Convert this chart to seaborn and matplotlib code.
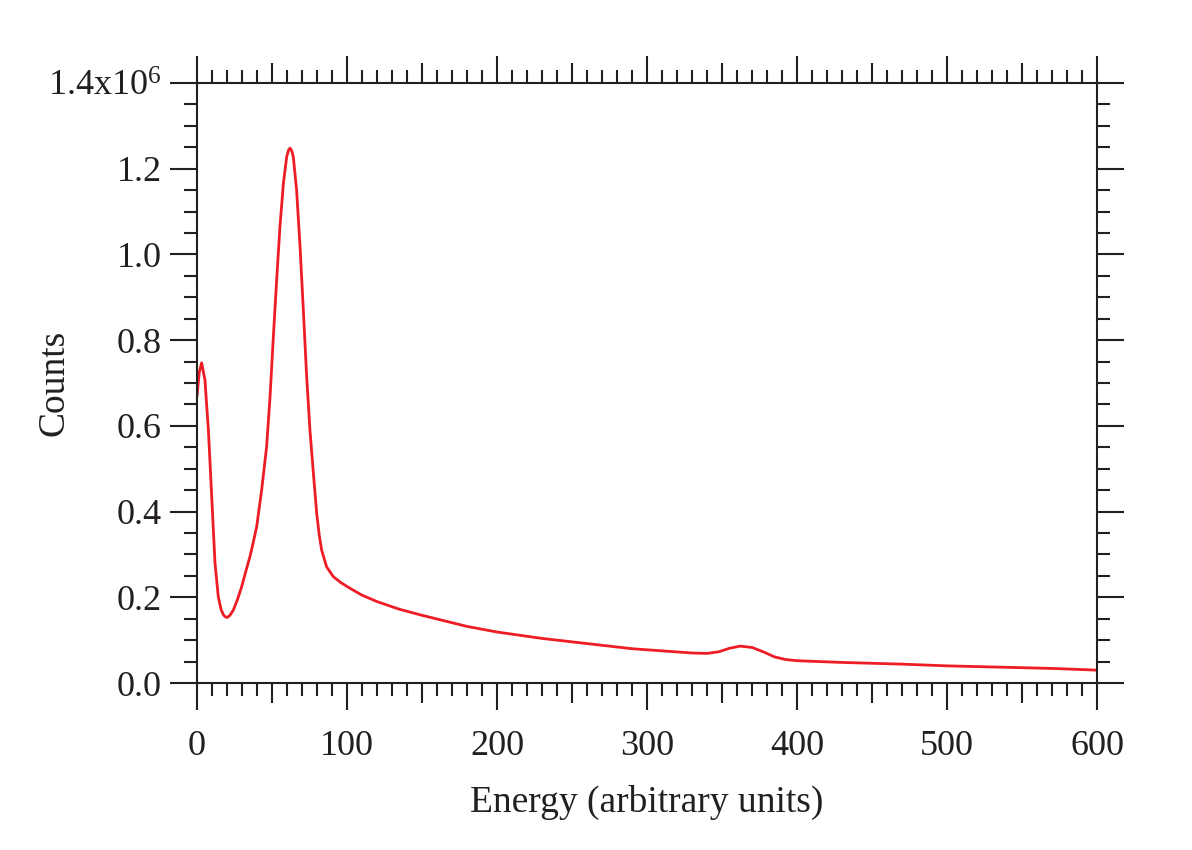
import numpy as np
import pandas as pd
import seaborn as sns
import matplotlib
matplotlib.use("Agg")
import matplotlib.pyplot as plt
from matplotlib.ticker import MultipleLocator, FuncFormatter

# спектр, значения (counts в единицах 1e6)
energy = [0, 1.5, 3.1, 5.3, 7.6, 9.8, 12, 14.2, 16, 17.6, 19, 20.2, 22, 24.2, 27,
          29.8, 32.5, 35.3, 37.5, 39.8, 43.1, 46.4, 48.7, 50.9, 53.1, 55.3, 57.6,
          59.8, 61, 62, 63, 64.2, 66.4, 68.7, 70.9, 73.1, 75.3, 77.6, 79.8, 81.5,
          83.1, 86.4, 90.9, 96, 102, 110, 120, 135, 150, 180, 200, 230, 250, 270,
          290, 310, 330, 340, 348, 355, 362, 370, 378, 385, 392, 400, 430, 470,
          500, 535, 570, 600]
counts_m = [0.668, 0.725, 0.747, 0.707, 0.590, 0.435, 0.28, 0.201, 0.172, 0.159,
            0.154, 0.153, 0.158, 0.170, 0.195, 0.225, 0.26, 0.295, 0.328, 0.365,
            0.450, 0.551, 0.668, 0.808, 0.940, 1.065, 1.166, 1.228, 1.243, 1.248,
            1.243, 1.228, 1.150, 1.018, 0.870, 0.715, 0.590, 0.489, 0.396, 0.345,
            0.310, 0.271, 0.248, 0.234, 0.221, 0.205, 0.19, 0.172, 0.158, 0.132,
            0.119, 0.104, 0.096, 0.088, 0.080, 0.075, 0.070, 0.069, 0.073, 0.081,
            0.086, 0.083, 0.072, 0.061, 0.055, 0.052, 0.048, 0.044, 0.040, 0.037,
            0.034, 0.030]

df = pd.DataFrame({"Energy": energy, "Counts": np.array(counts_m) * 1e6})

sns.set_style("ticks")
plt.rcParams["font.family"] = ["Liberation Serif", "DejaVu Serif"]
plt.rcParams["mathtext.fontset"] = "custom"
plt.rcParams["mathtext.rm"] = "Liberation Serif"
plt.rcParams["mathtext.it"] = "Liberation Serif"
plt.rcParams["mathtext.bf"] = "Liberation Serif:bold"

fig = plt.figure(figsize=(11.92, 8.5), dpi=100)
ax = fig.add_axes([197 / 1192, 1 - 683 / 850, 900 / 1192, 600 / 850])

sns.lineplot(data=df, x="Energy", y="Counts", color="#ee1c25", linewidth=2.0, ax=ax)

ax.set_xlim(0, 600)
ax.set_ylim(0, 1.4e6)

ax.xaxis.set_major_locator(MultipleLocator(100))
ax.xaxis.set_minor_locator(MultipleLocator(10))
ax.yaxis.set_major_locator(MultipleLocator(0.2e6))
ax.yaxis.set_minor_locator(MultipleLocator(0.05e6))


def ylab(v, pos):
    if abs(v - 1.4e6) < 1:
        return "1.4x10$^{6}$"
    return "%.1f" % (v / 1e6)


ax.yaxis.set_major_formatter(FuncFormatter(ylab))

for s in ax.spines.values():
    s.set_linewidth(1.5)
    s.set_color("#231f20")

ax.tick_params(which="both", direction="out", top=True, right=True,
               width=1.5, color="#231f20", labelsize=26, labelcolor="#231f20")
ax.tick_params(which="major", length=19.5)
ax.tick_params(which="minor", length=9.5)
ax.tick_params(axis="x", which="major", pad=14)
ax.tick_params(axis="y", which="major", pad=6)

# средние засечки на 50, 150, ... по оси x
fig.canvas.draw()
locs = ax.xaxis.get_minorticklocs()
for t, loc in zip(ax.xaxis.get_minor_ticks(len(locs)), locs):
    if abs(loc % 100 - 50) < 1e-6:
        t.tick1line.set_markersize(14.5)
        t.tick2line.set_markersize(14.5)

ax.set_xlabel("Energy (arbitrary units)", fontsize=27, color="#231f20")
ax.set_ylabel("Counts", fontsize=27, color="#231f20")
ax.xaxis.set_label_coords(0.5, -0.17)
ax.yaxis.set_label_coords(-0.139, 0.5)

fig.savefig("out.png", dpi=100)
